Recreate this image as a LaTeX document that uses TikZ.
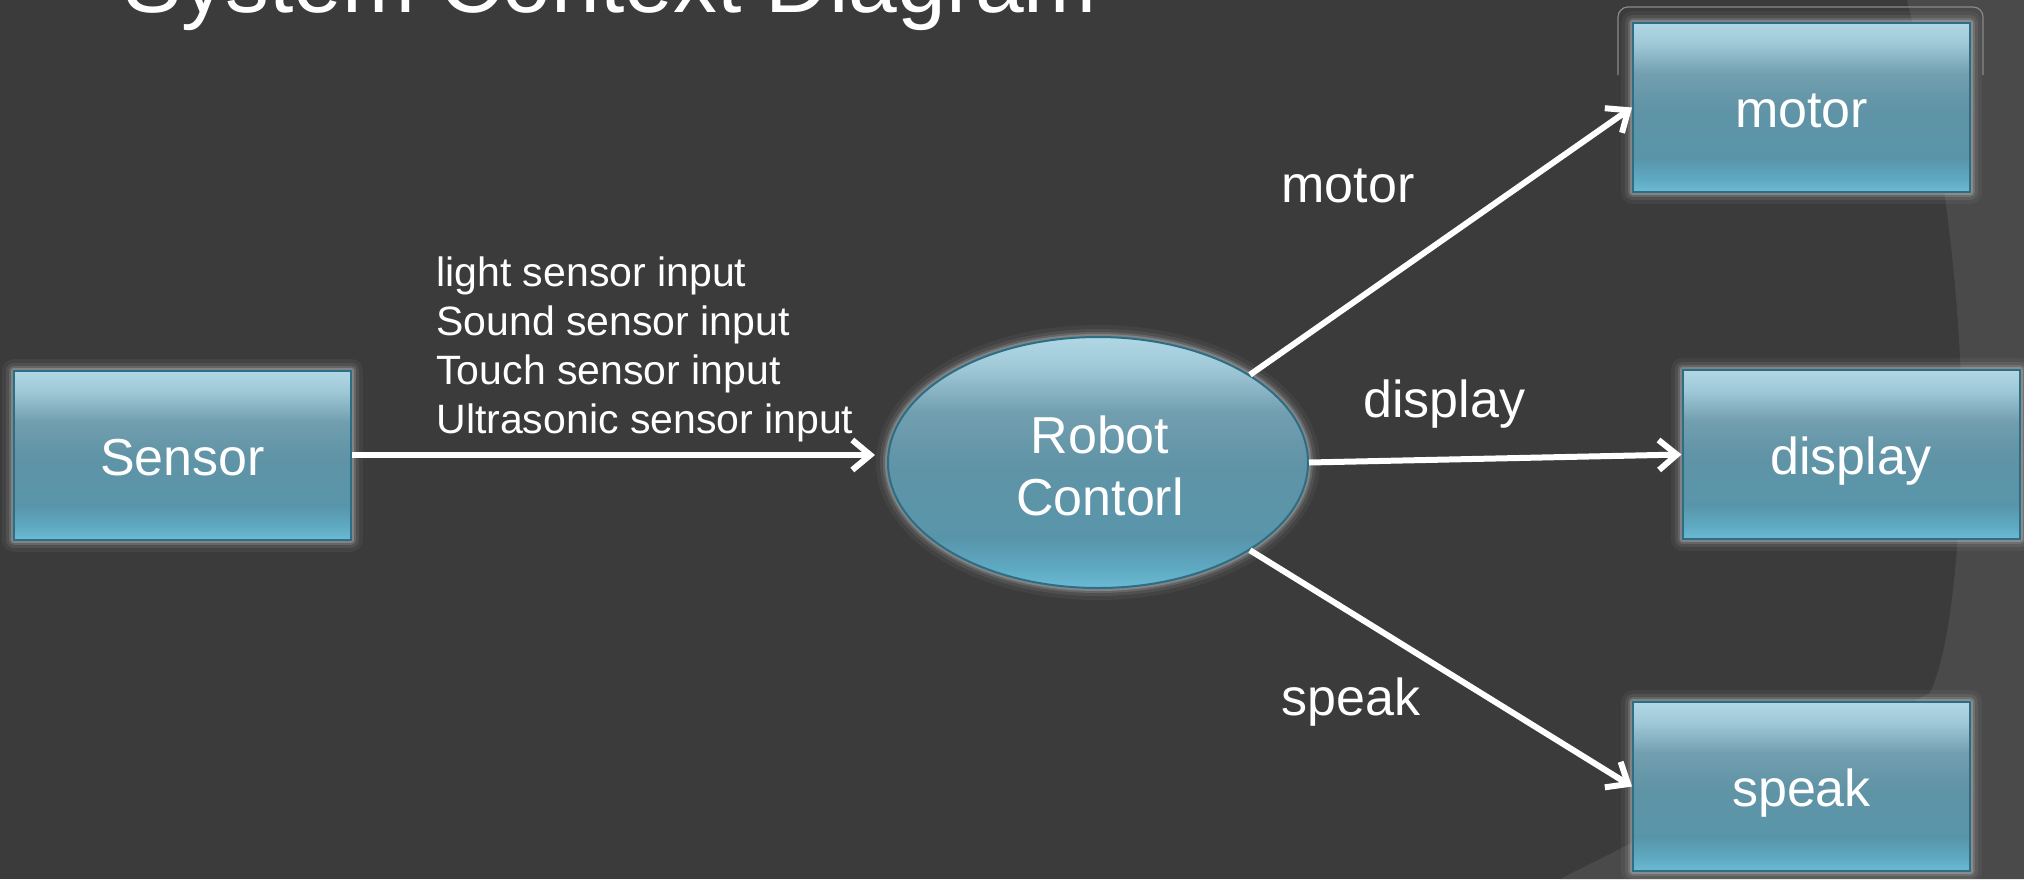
\documentclass[tikz,border=0pt]{standalone}
\usepackage{fontspec}
\setmainfont{Liberation Sans}
\usetikzlibrary{arrows.meta,shapes.geometric}

% slide colours
\definecolor{bgc}{HTML}{3B3B3B}
\definecolor{panelc}{HTML}{4A4A4A}
\definecolor{edgec}{HTML}{2E6E84}
\definecolor{framec}{HTML}{8A8A8A}
\definecolor{glowc}{HTML}{D8DEE0}
% glass gradient, top to bottom
\definecolor{gA}{HTML}{B0D7E4}
\definecolor{gB}{HTML}{A0C9D8}
\definecolor{gC}{HTML}{729FB0}
\definecolor{gD}{HTML}{6094A6}
\definecolor{gE}{HTML}{5995AA}
\definecolor{gF}{HTML}{5EA9C2}
\definecolor{gG}{HTML}{6CBAD4}

\pgfdeclareverticalshading{glass}{100bp}{color(0bp)=(gG); color(25bp)=(gG);
  color(29bp)=(gF); color(35bp)=(gE); color(50bp)=(gD); color(60bp)=(gC);
  color(69bp)=(gB); color(75bp)=(gA); color(100bp)=(gA)}

\begin{document}
\begin{tikzpicture}[x=0.5pt,y=-0.5pt,
  halo/.style={
    preaction={draw=glowc, draw opacity=0.05, line width=12pt, line join=round},
    preaction={draw=glowc, draw opacity=0.09, line width=8pt, line join=round},
    preaction={draw=glowc, draw opacity=0.15, line width=5pt, line join=round},
    preaction={draw=glowc, draw opacity=0.25, line width=3pt, line join=round}},
  glassy/.style={halo, shade, shading=glass, draw=edgec, line width=1pt,
    inner sep=0pt, text=white},
  block/.style={glassy, rectangle, minimum width=168.5pt, minimum height=84.5pt,
    font=\fontsize{26}{31}\selectfont, text height=20pt, text depth=0pt},
  bubble/.style={glassy, ellipse, minimum width=210pt, minimum height=125.5pt},
  flowlabel/.style={anchor=base west, inner sep=0pt, text=white,
    font=\fontsize{26}{31}\selectfont},
  flow/.style={draw=white, line width=3pt,
    -{Straight Barb[length=9pt,width=15pt]}}]

\useasboundingbox (0,0) rectangle (2024,879);
\clip (0,0) rectangle (2024,879);

% background and the lighter side panel
\fill[bgc] (0,0) rectangle (2024,879);
\fill[panelc] (1907,0) .. controls (1950,170) and (1968,360) .. (1960,500)
  .. controls (1955,600) and (1945,660) .. (1930,693) -- (1560,879)
  -- (2024,879) -- (2024,0) -- cycle;
\draw[framec, line width=0.6pt, rounded corners=5pt]
  (1618,75) -- (1618,7) -- (1983,7) -- (1983,75);

% title
\node[anchor=base west, inner sep=0pt, text=white,
  font=\fontsize{43.8}{50}\selectfont] (title) at (123,12) {System Context Diagram};

% external entities and the system
\node[block] (sensor)     at (182.5,455)  {Sensor};
\node[block] (motorbox)   at (1801.5,107.5) {motor};
\node[block] (displaybox) at (1851,454.5) {display};
\node[block] (speakbox)   at (1801.5,786.5) {speak};
\node[bubble] (rc) at (1098,462.5) {};
\node[anchor=base, align=center, inner sep=0pt, text=white,
  font=\fontsize{26}{31}\selectfont] (rctext) at (1100,515) {Robot\\Contorl};

% data flows
\draw[flow, shorten >=6pt] (sensor.east) -- (sensor.east -| rc.west);
\draw[flow] (rc.30) -- (motorbox.west);
\draw[flow] (rc.east) -- (displaybox.west);
\draw[flow] (rc.-30) -- (speakbox.west);

% flow labels
\node[anchor=base west, inner sep=0pt, align=left, text=white,
  font=\fontsize{20.5}{24.5}\selectfont] (inputs) at (436,433)
  {light sensor input\\Sound sensor input\\Touch sensor input\\Ultrasonic sensor input};
\node[flowlabel] (lblmotor)   at (1281,202) {motor};
\node[flowlabel] (lbldisplay) at (1363,417) {display};
\node[flowlabel] (lblspeak)   at (1281,715) {speak};
\end{tikzpicture}
\end{document}
